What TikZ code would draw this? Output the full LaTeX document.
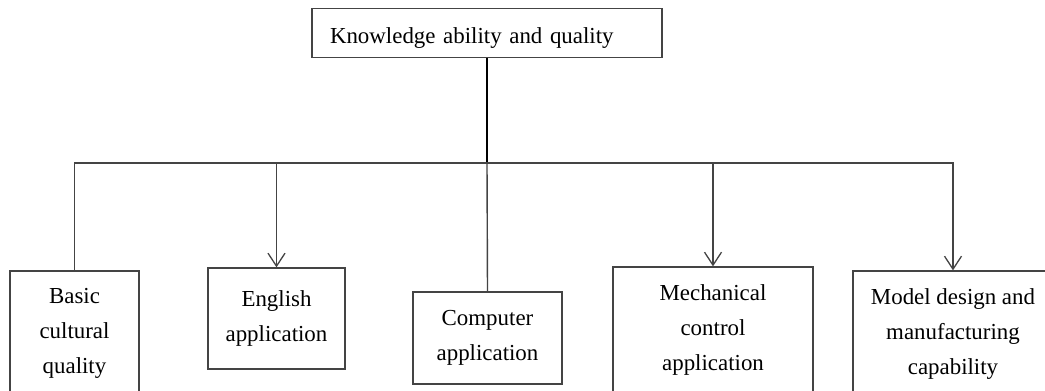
\documentclass[tikz,border=0pt]{standalone}
\usepackage{fontspec}
\setmainfont{Liberation Serif}
\usetikzlibrary{arrows.meta}
\definecolor{linegray}{HTML}{444444}
\begin{document}
\begin{tikzpicture}[x=1pt,y=-1pt,
  box/.style={draw=linegray,line width=1.3pt,inner sep=0pt,align=center,
    font=\fontsize{22.9}{35}\selectfont},
  conn/.style={draw=linegray,line width=1.4pt},
  arr/.style={conn,-{Straight Barb[length=13pt,width=17pt,line width=1.3pt]}},
  trunk/.style={draw=black,line width=1.9pt}]
\useasboundingbox (0,0) rectangle (1045,391);
\clip (0,0) rectangle (1045,391);
\fill[white] (0,0) rectangle (1045,391);
\node[box,minimum width=350pt,minimum height=49pt,text width=314pt,inner xsep=18pt,align=left,text height=20pt,text depth=0pt] (top) at (487,33) {Knowledge ability and quality};
\node[box,minimum width=129pt,minimum height=124pt] (basic) at (74.5,333) {Basic\\cultural\\quality};
\node[box,minimum width=137pt,minimum height=101pt] (english) at (276.5,318.5) {English\\application};
\node[box,minimum width=149pt,minimum height=92pt] (computer) at (487.5,338) {Computer\\application};
\node[box,minimum width=200pt,minimum height=126pt] (mech) at (713,330) {Mechanical\\control\\application};
\node[box,minimum width=200pt,minimum height=126pt] (model) at (953,334) {Model design and\\manufacturing\\capability};
\coordinate (j) at (487,163);
\draw[trunk] (top.south) -- (j);
\draw[conn] (j) -| (basic.north);
\draw[arr] (j) -| (english.north);
\draw[conn] (j) -- (computer.north);
\draw[arr] (j) -| (mech.north);
\draw[arr] (j) -| (model.north);
\end{tikzpicture}
\end{document}
